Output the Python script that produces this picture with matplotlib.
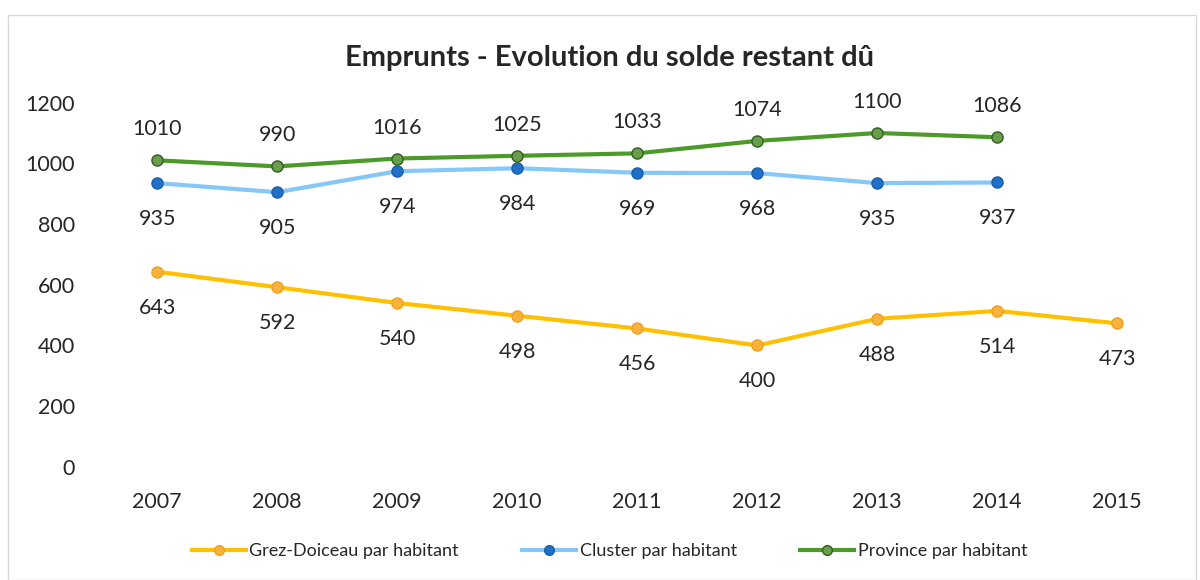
import matplotlib.pyplot as plt
from matplotlib.lines import Line2D
from matplotlib.patches import Rectangle

plt.rcParams['font.family'] = ['Lato', 'DejaVu Sans']

years = ['2007', '2008', '2009', '2010', '2011', '2012', '2013', '2014', '2015']
grez = [643, 592, 540, 498, 456, 400, 488, 514, 473]
cluster = [935, 905, 974, 984, 969, 968, 935, 937]
province = [1010, 990, 1016, 1025, 1033, 1074, 1100, 1086]

txt = '#262626'

fig = plt.figure(figsize=(12, 5.8), dpi=100)
ax = fig.add_axes([0.081, 0.195, 0.9, 0.628])

x9 = list(range(len(years)))
x8 = x9[:len(cluster)]

ax.plot(x9, grez, color='#FFC000', lw=3, marker='o', ms=8,
        mfc='#F7B23B', mec='#F0A020', mew=1, zorder=3)
ax.plot(x8, cluster, color='#85C7F7', lw=3, marker='o', ms=8,
        mfc='#2070C8', mec='#1A5EA8', mew=1, zorder=3)
ax.plot(x8, province, color='#4C9A2A', lw=3, marker='o', ms=8,
        mfc='#6A9E4C', mec='#2F5E20', mew=1, zorder=4)

for i, v in enumerate(grez):
    ax.annotate(str(v), (i, v), xytext=(0, -36), textcoords='offset pixels',
                ha='center', va='center', fontsize=15.5, color=txt)
for i, v in enumerate(cluster):
    ax.annotate(str(v), (i, v), xytext=(0, -36), textcoords='offset pixels',
                ha='center', va='center', fontsize=15.5, color=txt)
for i, v in enumerate(province):
    ax.annotate(str(v), (i, v), xytext=(0, 31), textcoords='offset pixels',
                ha='center', va='center', fontsize=15.5, color=txt)

ax.set_xlim(-0.5, 8.5)
ax.set_ylim(0, 1200)
ax.set_yticks(range(0, 1201, 200))
ax.set_xticks(x9)
ax.set_xticklabels(years)
ax.tick_params(axis='both', length=0, labelsize=15.5, labelcolor=txt)
ax.tick_params(axis='x', pad=18)
ax.tick_params(axis='y', pad=16)
for s in ax.spines.values():
    s.set_visible(False)

fig.text(0.508, 0.9, 'Emprunts - Evolution du solde restant dû', ha='center',
         va='center', fontsize=21, fontweight='bold', color=txt)

handles = [
    Line2D([], [], color='#FFC000', lw=3, marker='o', ms=7, mfc='#F7B23B', mec='#F0A020'),
    Line2D([], [], color='#85C7F7', lw=3, marker='o', ms=7, mfc='#2070C8', mec='#1A5EA8'),
    Line2D([], [], color='#4C9A2A', lw=3, marker='o', ms=7, mfc='#6A9E4C', mec='#2F5E20'),
]
labels = ['Grez-Doiceau par habitant', 'Cluster par habitant', 'Province par habitant']
fig.legend(handles, labels, loc='center', bbox_to_anchor=(0.508, 0.05), ncol=3,
           frameon=False, fontsize=13, columnspacing=3.5, handlelength=3,
           handletextpad=0.2, labelcolor=txt)

fig.add_artist(Rectangle((0.007, 0.0), 0.99, 0.975, transform=fig.transFigure,
                         fill=False, edgecolor='#D9D9D9', lw=1))

fig.savefig('out.png', dpi=100)
